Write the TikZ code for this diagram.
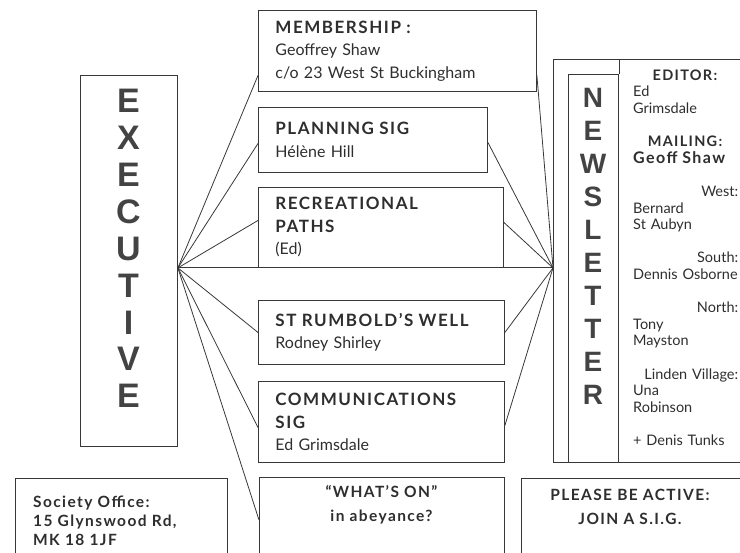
\documentclass[tikz,border=0pt]{standalone}
\usepackage{fontspec}
\setmainfont{Lato}[BoldFeatures={LetterSpace=9}]
\newfontfamily\bigsans{Liberation Sans}
\usetikzlibrary{positioning}

\definecolor{ink}{HTML}{2E2E2E}
\definecolor{frame}{HTML}{383838}

\newcommand{\hd}[1]{{\bfseries\fontsize{17}{22.5}\selectfont #1}}

\tikzset{
  box/.style={draw=frame, line width=0.9pt, inner ysep=0pt, inner xsep=17pt,
    anchor=north west, align=left, text=ink,
    font=\fontsize{16}{22.5}\selectfont\parindent0pt},
  conn/.style={draw=frame, line width=0.8pt},
  bigletter/.style={text=ink!90, inner sep=0pt,
    font=\bigsans\bfseries\fontsize{34}{34}\selectfont},
  nlletter/.style={text=ink!90, inner sep=0pt,
    font=\bigsans\bfseries\fontsize{28}{28}\selectfont},
  coltext/.style={text=ink, inner sep=0pt, anchor=north west, text width=105pt,
    align=left, font=\fontsize{14.5}{16.6}\selectfont\parindent0pt},
  foottext/.style={text=ink, inner sep=0pt, align=center,
    font=\bfseries\fontsize{15.5}{24}\selectfont}
}

\begin{document}
\begin{tikzpicture}[x=1pt, y=-1pt]
  \clip (0,0) rectangle (740,553);

  % left column
  \node[box, minimum width=97, minimum height=371] (exec) at (80,75) {};
  \foreach \ch [count=\i from 0] in {E,X,E,C,U,T,I,V,E}
    \node[bigletter] (ex\i) at (128.5,{101+36.9*\i}) {\ch};

  % middle column of groups
  \node[box, text width=244, minimum height=81] (memb) at (258,10)
    {\hd{MEMBERSHIP :}\\Geoffrey Shaw\\c/o 23 West St Buckingham};
  \node[box, text width=195, minimum height=65] (plan) at (258,107)
    {\hd{PLANNING SIG}\\H\'el\`ene Hill};
  \node[box, text width=211, minimum height=80] (recr) at (258,187)
    {\hd{RECREATIONAL}\\\hd{PATHS}\\(Ed)};
  \node[box, text width=212, minimum height=64] (stru) at (258,300)
    {\hd{ST RUMBOLD’S WELL}\\Rodney Shirley};
  \node[box, text width=212, minimum height=81] (comm) at (258,381)
    {\hd{COMMUNICATIONS}\\\hd{SIG}\\Ed Grimsdale};
  \node[box, text width=211, minimum height=100] (whats) at (259,477) {};
  \node[foottext] (whatstxt) at (381.5,505)
    {“WHAT’S ON”\\in abeyance?};

  % newsletter
  \node[box, minimum width=200, minimum height=403] (news) at (553,59) {};
  \node[box, minimum width=50, minimum height=388] (newscol) at (568,74) {};
  \draw[conn] (newscol.north east) -- (newscol.north east |- news.north);
  \foreach \ch [count=\i from 0] in {N,E,W,S,L,E,T,T,E,R}
    \node[nlletter] (nl\i) at (593,{98+33*\i}) {\ch};
  \node[coltext] (staff) at (633,69.5) {%
    \makebox[\linewidth][c]{\textbf{EDITOR:}}\\
    Ed\\
    Grimsdale\\[16.6pt]
    \makebox[\linewidth][c]{\textbf{MAILING:}}\\
    {\bfseries\fontsize{16}{16.6}\selectfont Geoff Shaw}\\[16.6pt]
    \hspace*{\fill}West:\\
    Bernard\\
    St Aubyn\\[16.6pt]
    \hspace*{\fill}South:\\
    Dennis Osborne\\[16.6pt]
    \hspace*{\fill}North:\\
    Tony\\
    Mayston\\[16.6pt]
    \hspace*{\fill}Linden Village:\\
    Una\\
    Robinson\\[16.6pt]
    + Denis Tunks};

  % footer boxes
  \node[box, minimum width=212, minimum height=100] (office) at (15,478) {};
  \node[text=ink, inner sep=0pt, anchor=north west, align=left,
    font=\bfseries\fontsize{15.5}{19}\selectfont] (officetxt)
    at (33,496) {Society Office:\\15 Glynswood Rd,\\MK 18 1JF};
  \node[box, minimum width=230, minimum height=100] (please) at (521,478) {};
  \node[foottext] (pleasetxt) at (630,507)
    {PLEASE BE ACTIVE:\\JOIN A S.I.G.};

  % connectors
  \coordinate (exhub) at (exec.east |- recr.south);
  \coordinate (nlhub) at (news.west |- recr.south);
  \draw[conn] (exhub) -- (nlhub);
  \draw[conn] (exhub) -- ([yshift=-24.5pt]memb.west);
  \draw[conn] (exhub) -- ([yshift=-3.5pt]plan.west);
  \draw[conn] (exhub) -- ([yshift=7pt]recr.west);
  \draw[conn] (exhub) -- (stru.west);
  \draw[conn] (exhub) -- ([yshift=-5.5pt]comm.west);
  \draw[conn] (exhub) -- ([yshift=-43pt]whats.north west);
  \draw[conn] (nlhub) -- ([yshift=-24.5pt]memb.east);
  \draw[conn] (nlhub) -- ([yshift=-2.5pt]plan.east);
  \draw[conn] (nlhub) -- ([yshift=5pt]recr.east);
  \draw[conn] (nlhub) -- (stru.east);
  \draw[conn] (nlhub) -- ([yshift=-3.5pt]comm.east);
\end{tikzpicture}
\end{document}
